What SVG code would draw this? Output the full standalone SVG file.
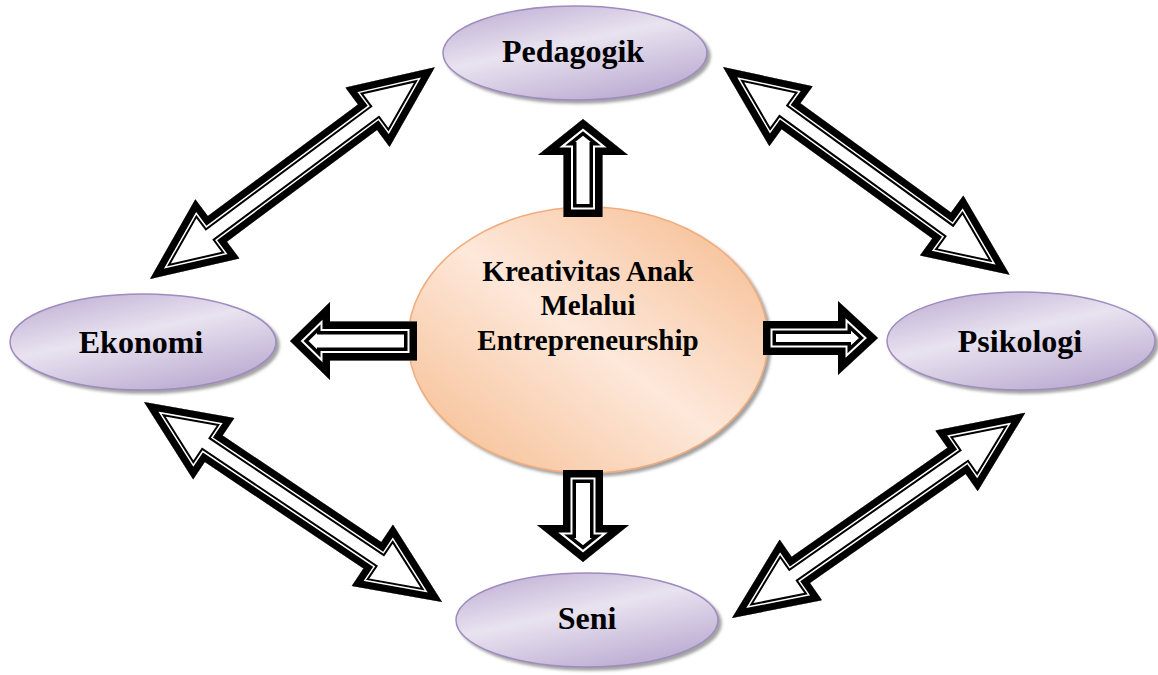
<svg xmlns="http://www.w3.org/2000/svg" xmlns:xlink="http://www.w3.org/1999/xlink" width="1158" height="675" viewBox="0 0 1158 675">
<style>
.lbl{font-family:"Liberation Serif","Times New Roman",serif;font-weight:bold;fill:#000;text-anchor:middle}
.outer{font-size:32px}
.inner{font-size:29px}
.pnode{fill:url(#gPurple);stroke:#9f8bbf;stroke-width:1.5;filter:url(#sh)}
.cnode{fill:url(#gPeach);stroke:#f0ad7e;stroke-width:1.5;filter:url(#sh)}
.aw{fill:#fff;stroke:none}
.sa1{fill:none;stroke:#000;stroke-width:26;stroke-linejoin:miter;stroke-miterlimit:10}
.sa2{fill:none;stroke:#fff;stroke-width:19;stroke-linejoin:miter;stroke-miterlimit:10}
.sa3{fill:none;stroke:#000;stroke-width:15;stroke-linejoin:miter;stroke-miterlimit:10}
.da1{fill:none;stroke:#000;stroke-width:21;stroke-linejoin:miter;stroke-miterlimit:10}
.da2{fill:none;stroke:#fff;stroke-width:17;stroke-linejoin:miter;stroke-miterlimit:10}
.da3{fill:none;stroke:#000;stroke-width:14;stroke-linejoin:miter;stroke-miterlimit:10}
</style>
<defs>
<linearGradient id="gPurple" x1="0" y1="0" x2="0.6" y2="1">
<stop offset="0" stop-color="#b9a8d0"/>
<stop offset="0.5" stop-color="#e9e3f0"/>
<stop offset="1" stop-color="#bfb0d4"/>
</linearGradient>
<linearGradient id="gPeach" x1="0.1" y1="0.9" x2="0.9" y2="0.1">
<stop offset="0" stop-color="#f7c39b"/>
<stop offset="0.5" stop-color="#fde8da"/>
<stop offset="1" stop-color="#f7c29a"/>
</linearGradient>
<filter id="sh" x="-10%" y="-10%" width="125%" height="130%">
<feDropShadow dx="3" dy="3" stdDeviation="1.5" flood-color="#6f6f6f" flood-opacity="0.65"/>
</filter>
<path id="pUp" d="M0,-19.5 L62,-19.5 L62,-45 L98,0 L62,45 L62,19.5 L0,19.5 Z"/>
<path id="pDown" d="M0,-20 L55,-20 L55,-46 L92,0 L55,46 L55,20 L0,20 Z"/>
<path id="pLeft" d="M0,-19.5 L87,-19.5 L87,-39 L127,0 L87,39 L87,19.5 L0,19.5 Z"/>
<path id="pRight" d="M0,-17 L75,-17 L75,-37 L115,0 L75,37 L75,17 L0,17 Z"/>
<path id="pTL" d="M0,0 L84,-37 L84,-16 L271,-16 L271,-37 L355,0 L271,37 L271,16 L84,16 L84,37 Z"/>
<path id="pTR" d="M0,0 L84,-37 L84,-16 L270,-16 L270,-37 L354,0 L270,37 L270,16 L84,16 L84,37 Z"/>
<path id="pBL" d="M0,0 L84,-37 L84,-16 L275,-16 L275,-37 L359,0 L275,37 L275,16 L84,16 L84,37 Z"/>
<path id="pBR" d="M0,0 L84,-37 L84,-16 L274,-16 L274,-37 L358,0 L274,37 L274,16 L84,16 L84,37 Z"/>
<clipPath id="cUp"><use xlink:href="#pUp"/></clipPath>
<clipPath id="cDown"><use xlink:href="#pDown"/></clipPath>
<clipPath id="cLeft"><use xlink:href="#pLeft"/></clipPath>
<clipPath id="cRight"><use xlink:href="#pRight"/></clipPath>
<clipPath id="cTL"><use xlink:href="#pTL"/></clipPath>
<clipPath id="cTR"><use xlink:href="#pTR"/></clipPath>
<clipPath id="cBL"><use xlink:href="#pBL"/></clipPath>
<clipPath id="cBR"><use xlink:href="#pBR"/></clipPath>
</defs>
<rect width="1158" height="675" fill="#fff"/>

<g id="node-center">
<ellipse class="cnode" cx="588" cy="340" rx="180" ry="133"/>
<text class="lbl inner" x="588" y="281">Kreativitas Anak</text>
<text class="lbl inner" x="588" y="315">Melalui</text>
<text class="lbl inner" x="588" y="350">Entrepreneurship</text>
</g>
<g id="node-pedagogik">
<ellipse class="pnode" cx="575" cy="53" rx="132" ry="47"/>
<text class="lbl outer" x="573" y="62">Pedagogik</text>
</g>
<g id="node-ekonomi">
<ellipse class="pnode" cx="143" cy="342" rx="133" ry="48"/>
<text class="lbl outer" x="141" y="353">Ekonomi</text>
</g>
<g id="node-psikologi">
<ellipse class="pnode" cx="1021" cy="341" rx="134" ry="49"/>
<text class="lbl outer" x="1020" y="352">Psikologi</text>
</g>
<g id="node-seni">
<ellipse class="pnode" cx="587" cy="620" rx="131" ry="47"/>
<text class="lbl outer" x="587" y="629">Seni</text>
</g>

<g id="connectors">
<g transform="translate(583,217) rotate(-90)">
<use xlink:href="#pUp" class="aw"/>
<g clip-path="url(#cUp)"><use xlink:href="#pUp" class="sa1"/><use xlink:href="#pUp" class="sa2"/><use xlink:href="#pUp" class="sa3"/></g>
</g>
<g transform="translate(583,470) rotate(90)">
<use xlink:href="#pDown" class="aw"/>
<g clip-path="url(#cDown)"><use xlink:href="#pDown" class="sa1"/><use xlink:href="#pDown" class="sa2"/><use xlink:href="#pDown" class="sa3"/></g>
</g>
<g transform="translate(417,341) rotate(180)">
<use xlink:href="#pLeft" class="aw"/>
<g clip-path="url(#cLeft)"><use xlink:href="#pLeft" class="sa1"/><use xlink:href="#pLeft" class="sa2"/><use xlink:href="#pLeft" class="sa3"/></g>
</g>
<g transform="translate(763,338)">
<use xlink:href="#pRight" class="aw"/>
<g clip-path="url(#cRight)"><use xlink:href="#pRight" class="sa1"/><use xlink:href="#pRight" class="sa2"/><use xlink:href="#pRight" class="sa3"/></g>
</g>
<g transform="translate(150,279) rotate(-36.64)">
<use xlink:href="#pTL" class="aw"/>
<g clip-path="url(#cTL)"><use xlink:href="#pTL" class="da1"/><use xlink:href="#pTL" class="da2"/><use xlink:href="#pTL" class="da3"/></g>
</g>
<g transform="translate(723,67) rotate(35.93)">
<use xlink:href="#pTR" class="aw"/>
<g clip-path="url(#cTR)"><use xlink:href="#pTR" class="da1"/><use xlink:href="#pTR" class="da2"/><use xlink:href="#pTR" class="da3"/></g>
</g>
<g transform="translate(144,402) rotate(33.87)">
<use xlink:href="#pBL" class="aw"/>
<g clip-path="url(#cBL)"><use xlink:href="#pBL" class="da1"/><use xlink:href="#pBL" class="da2"/><use xlink:href="#pBL" class="da3"/></g>
</g>
<g transform="translate(732,618) rotate(-34.98)">
<use xlink:href="#pBR" class="aw"/>
<g clip-path="url(#cBR)"><use xlink:href="#pBR" class="da1"/><use xlink:href="#pBR" class="da2"/><use xlink:href="#pBR" class="da3"/></g>
</g>
</g>
</svg>
